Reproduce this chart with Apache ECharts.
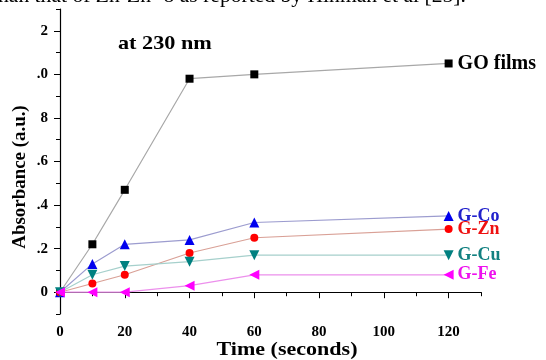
<!DOCTYPE html>
<html>
<head>
<meta charset="utf-8">
<script src="https://cdn.jsdelivr.net/npm/echarts@6/dist/echarts.min.js"></script>
<style>
  html, body { margin: 0; padding: 0; background: #fff; }
  #chart { width: 546px; height: 360px; }
</style>
</head>
<body>
<div id="chart"></div>
<script>
// time points (seconds)
const times = [0, 10, 20, 40, 60, 120]
const seriesNames = ['GO films', 'G-Co', 'G-Zn', 'G-Cu', 'G-Fe']
// absorbance
const goFilms = [0, 0.22, 0.47, 0.98, 1.0, 1.05]
const gCo = [0, 0.13, 0.22, 0.24, 0.32, 0.35]
const gZn = [0, 0.04, 0.08, 0.18, 0.25, 0.29]
const gCu = [0, 0.08, 0.12, 0.14, 0.17, 0.17]
const gFe = [0, 0, 0, 0.03, 0.08, 0.08]

const xTicks = [0, 20, 40, 60, 80, 100, 120]
const xMinorTicks = [10, 30, 50, 70, 90, 110, 130]
const yTicks = [0, 0.2, 0.4, 0.6, 0.8, 1.0, 1.2]
const yMinorTicks = [-0.1, 0.1, 0.3, 0.5, 0.7, 0.9, 1.1, 1.3]
// tick labels as they show in the (cropped) figure
const yTickLabels = ['0', '.2', '.4', '.6', '8', '.0', '2']

const serif = '"Liberation Serif", "Times New Roman", serif'

const chart = echarts.init(document.getElementById('chart'), null, { renderer: 'canvas' })

const mk = (name, values, symbol, rotate, markColor, lineColor, labelColor, labelSize) => ({
  name: name,
  type: 'line',
  data: times.map((t, i) => [t, values[i]]),
  symbol: symbol,
  symbolRotate: rotate,
  symbolSize: symbol === 'triangle' ? 10 : 8,
  showAllSymbol: true,
  lineStyle: { color: lineColor, width: 1.2 },
  itemStyle: { color: markColor },
  emphasis: { disabled: true },
  endLabel: {
    show: true,
    formatter: name,
    distance: 9,
    color: labelColor,
    fontFamily: serif,
    fontWeight: 'bold',
    fontSize: labelSize
  },
  z: 2
})

const baseX = {
  type: 'value', min: 0, max: 130, splitLine: { show: false }
}
const baseY = {
  type: 'value', min: -0.1, max: 1.3, splitLine: { show: false }
}

const option = {
  animation: false,
  grid: { left: 60, right: 65, top: 9, bottom: 46 },
  xAxis: [
    {
      ...baseX,
      interval: 20,
      axisLine: { lineStyle: { color: '#000', width: 1.2 } },
      axisTick: { customValues: xTicks, length: 6, lineStyle: { color: '#000' } },
      axisLabel: {
        customValues: xTicks, margin: 11, color: '#000',
        fontFamily: serif, fontWeight: 'bold', fontSize: 15
      }
    },
    {
      ...baseX,
      position: 'bottom',
      axisLine: { show: false },
      axisTick: { customValues: xMinorTicks, length: 4, lineStyle: { color: '#000' } },
      axisLabel: { show: false }
    }
  ],
  yAxis: [
    {
      ...baseY,
      axisLine: { show: true, lineStyle: { color: '#000', width: 1.2 } },
      axisTick: { show: true, customValues: yTicks, length: 6, lineStyle: { color: '#000' } },
      axisLabel: {
        customValues: yTicks, margin: 12, color: '#000',
        fontFamily: serif, fontWeight: 'bold', fontSize: 15,
        formatter: v => yTickLabels[yTicks.findIndex(t => Math.abs(t - v) < 1e-6)] ?? ''
      }
    },
    {
      ...baseY,
      position: 'left',
      axisLine: { show: false },
      axisTick: { show: true, customValues: yMinorTicks, length: 4, lineStyle: { color: '#000' } },
      axisLabel: { show: false }
    }
  ],
  series: [
    mk(seriesNames[0], goFilms, 'rect', 0, '#000000', '#a8a8a8', '#000000', 20),
    mk(seriesNames[1], gCo, 'triangle', 0, '#0000ee', '#9c9ccf', '#2222cc', 18),
    mk(seriesNames[2], gZn, 'circle', 0, '#ff0000', '#d9a096', '#ee1111', 18),
    mk(seriesNames[3], gCu, 'triangle', 180, '#008080', '#a6d0cc', '#128080', 18),
    mk(seriesNames[4], gFe, 'triangle', 90, '#ff00ff', '#ec90ec', '#ee11ee', 18)
  ],
  graphic: [
    {
      type: 'text', x: -2, y: -13, scaleX: 1.08,
      style: {
        text: 'han that of Zn-Zn -8 as reported by Hinman et al [25].',
        font: '20px ' + serif, fill: '#000', align: 'left', verticalAlign: 'top'
      }
    },
    {
      type: 'text', x: 118, y: 35, scaleX: 1.17,
      style: { text: 'at 230 nm', font: 'bold 19px ' + serif, fill: '#000', align: 'left', verticalAlign: 'top' }
    },
    {
      type: 'text', x: 20, y: 177, rotation: Math.PI / 2, scaleX: 1.05,
      style: {
        text: 'Absorbance (a.u.)', font: 'bold 18px ' + serif, fill: '#000',
        align: 'center', verticalAlign: 'middle'
      }
    },
    {
      type: 'text', x: 287, y: 350, scaleX: 1.16,
      style: {
        text: 'Time (seconds)', font: 'bold 19px ' + serif, fill: '#000',
        align: 'center', verticalAlign: 'middle'
      }
    }
  ]
}

chart.setOption(option)
</script>
</body>
</html>
